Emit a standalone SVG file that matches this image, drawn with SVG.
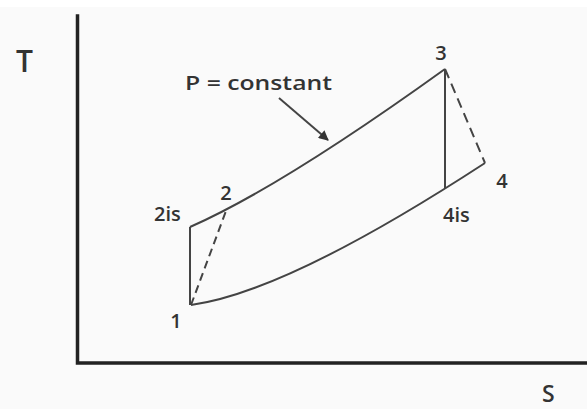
<svg xmlns="http://www.w3.org/2000/svg" width="587" height="409" viewBox="0 0 587 409">
  <defs>
    <style>
      .lbl { font-family: "Open Sans", "Liberation Sans", sans-serif; font-weight: 600; fill: #333; }
      .pt { font-size: 20px; }
      .ax { stroke: #222; stroke-width: 3.5; fill: none; stroke-linecap: square; }
      .ln { stroke: #444; stroke-width: 2; fill: none; }
      .dash1 { stroke-dasharray: 8 5; }
      .dash2 { stroke-dasharray: 10 6; }
    </style>
    <marker id="ah" viewBox="0 0 10 10" refX="9" refY="5" markerWidth="6" markerHeight="5" orient="auto" markerUnits="strokeWidth">
      <path d="M0,0 L10,5 L0,10 z" fill="#333"/>
    </marker>
  </defs>
  <rect x="0" y="0" width="587" height="409" fill="#fafafa"/>
  <rect x="0" y="0" width="587" height="7" fill="#ffffff"/>
  <g id="axes">
    <path class="ax" d="M77.5,16 L77.5,363 L587,363"/>
    <text class="lbl" x="16" y="72" font-size="30" font-weight="700">T</text>
    <text class="lbl" x="542" y="402" font-size="23">S</text>
  </g>
  <g id="connectors">
    <path id="p-high" class="ln" d="M190,227 Q281,187 445,69"/>
    <path id="p-low" class="ln" d="M191,305 Q287,292 485,163"/>
    <path id="c-1-2is" class="ln" d="M190,305 L190,227"/>
    <path id="c-3-4is" class="ln" d="M445,69 L445,189"/>
    <path id="c-1-2" class="ln dash1" d="M191,305 L226,211"/>
    <path id="c-3-4" class="ln dash2" d="M445,69 L485,163"/>
    <path id="c-note" class="ln" stroke="#333" d="M279,98 L328,140" marker-end="url(#ah)"/>
  </g>
  <g id="node-1"><text class="lbl pt" x="176" y="328" text-anchor="middle">1</text></g>
  <g id="node-2is"><text class="lbl pt" x="154" y="221">2is</text></g>
  <g id="node-2"><text class="lbl pt" x="226" y="200" text-anchor="middle">2</text></g>
  <g id="node-3"><text class="lbl pt" x="441" y="60" text-anchor="middle">3</text></g>
  <g id="node-4is"><text class="lbl pt" x="443" y="222">4is</text></g>
  <g id="node-4"><text class="lbl pt" x="502" y="188" text-anchor="middle">4</text></g>
  <g id="note"><text class="lbl" x="185" y="90" font-size="20" textLength="147" lengthAdjust="spacingAndGlyphs">P = constant</text></g>
</svg>
